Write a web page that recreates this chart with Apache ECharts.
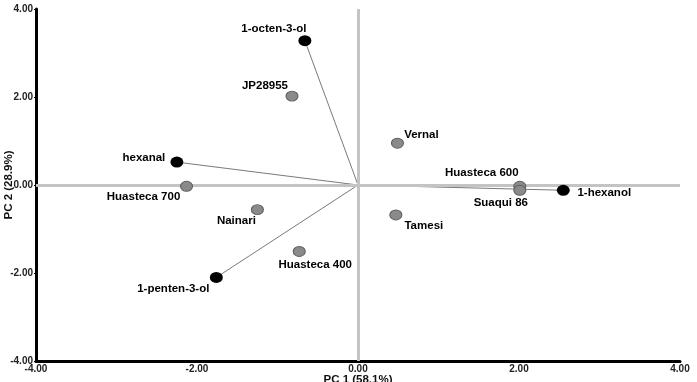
<!DOCTYPE html>
<html>
<head>
<meta charset="utf-8">
<script src="https://cdn.jsdelivr.net/npm/echarts@6/dist/echarts.min.js"></script>
<style>
html,body{margin:0;padding:0;background:#fff;}
#chart{width:697px;height:382px;}
</style>
</head>
<body>
<div id="chart"></div>
<script>
// Samples (cultivars) – PCA scores
var sampleNames = ['JP28955','Huasteca 700','Nainari','Huasteca 400','Vernal','Tamesi','Huasteca 600','Suaqui 86'];
var sampleX = [-0.82, -2.13, -1.25, -0.73, 0.49, 0.47, 2.01, 2.01];
var sampleY = [2.02, -0.03, -0.56, -1.51, 0.95, -0.68, -0.03, -0.12];
// Volatile compounds – loadings
var loadNames = ['1-octen-3-ol','hexanal','1-penten-3-ol','1-hexanol'];
var loadX = [-0.66, -2.25, -1.76, 2.55];
var loadY = [3.28, 0.52, -2.10, -0.12];
// Axis ticks
var tickValues = [-4, -2, 0, 2, 4];
var xTitle = 'PC 1 (58.1%)';
var yTitle = 'PC 2 (28.9%)';

// label offsets (presentation only)
var sampleOffsets = {
  'JP28955':[-27,-10], 'Huasteca 700':[-43,11], 'Nainari':[-21,11], 'Huasteca 400':[16,13],
  'Vernal':[24,-8], 'Tamesi':[28,11], 'Huasteca 600':[-38,-13], 'Suaqui 86':[-19,13]
};
var loadOffsets = {
  '1-octen-3-ol':[-31,-12], 'hexanal':[-33,-4], '1-penten-3-ol':[-43,11], '1-hexanol':[41,3]
};

var FONT = 'Liberation Sans, Arial, sans-serif';

var series = [];
// zero reference lines
series.push({
  type:'line', data:[], silent:true,
  markLine:{
    silent:true, symbol:'none', label:{show:false},
    lineStyle:{color:'#c4c4c4', width:3, type:'solid', opacity:1},
    data:[{xAxis:0},{yAxis:0}]
  }
});
// loading vectors
loadNames.forEach(function(n,i){
  series.push({
    type:'line', symbol:'none', silent:true, z:3,
    lineStyle:{color:'#7a7a7a', width:1},
    data:[[0,0],[loadX[i],loadY[i]]]
  });
});
function mkLabel(n, off){
  return {show:true, position:'inside', formatter:n, offset:off,
    fontFamily:FONT, fontWeight:'bold', fontSize:11.5, color:'#000', opacity:1};
}
// sample points
series.push({
  type:'scatter', z:5, symbol:'circle', symbolSize:[12,10],
  itemStyle:{color:'#8a8a8a', borderColor:'#5e5e5e', borderWidth:1, opacity:1},
  data: sampleNames.map(function(n,i){
    return {value:[sampleX[i],sampleY[i]], name:n, label:mkLabel(n, sampleOffsets[n])};
  })
});
// loading points
series.push({
  type:'scatter', z:6, symbol:'circle', symbolSize:[13,11],
  itemStyle:{color:'#000', opacity:1},
  data: loadNames.map(function(n,i){
    return {value:[loadX[i],loadY[i]], name:n, label:mkLabel(n, loadOffsets[n])};
  })
});

var axisLabelStyle = {fontFamily:FONT, fontWeight:'bold', fontSize:10, color:'#222',
  formatter:function(v){return v.toFixed(2);}};

var chart = echarts.init(document.getElementById('chart'));
chart.setOption({
  animation:false,
  backgroundColor:'#fff',
  grid:{left:36, right:17, top:9, bottom:21, containLabel:false, outerBoundsMode:'none'},
  xAxis:{
    type:'value', min:tickValues[0], max:tickValues[tickValues.length-1], interval:2,
    name:xTitle, nameLocation:'middle', nameGap:13, nameMoveOverlap:false,
    nameTextStyle:{fontFamily:FONT, fontWeight:'bold', fontSize:11.5, color:'#111', verticalAlign:'top'},
    axisLine:{onZero:false, lineStyle:{color:'#000', width:3}},
    axisTick:{show:true, length:2, lineStyle:{color:'#000'}},
    axisLabel:Object.assign({margin:3}, axisLabelStyle),
    splitLine:{show:false}
  },
  yAxis:{
    type:'value', min:tickValues[0], max:tickValues[tickValues.length-1], interval:2,
    name:yTitle, nameLocation:'middle', nameGap:21, nameRotate:90, nameMoveOverlap:false,
    nameTextStyle:{fontFamily:FONT, fontWeight:'bold', fontSize:11.5, color:'#111'},
    axisLine:{onZero:false, lineStyle:{color:'#000', width:3}},
    axisTick:{show:true, length:2, lineStyle:{color:'#000'}},
    axisLabel:Object.assign({margin:3}, axisLabelStyle),
    splitLine:{show:false}
  },
  series:series
});
</script>
</body>
</html>
